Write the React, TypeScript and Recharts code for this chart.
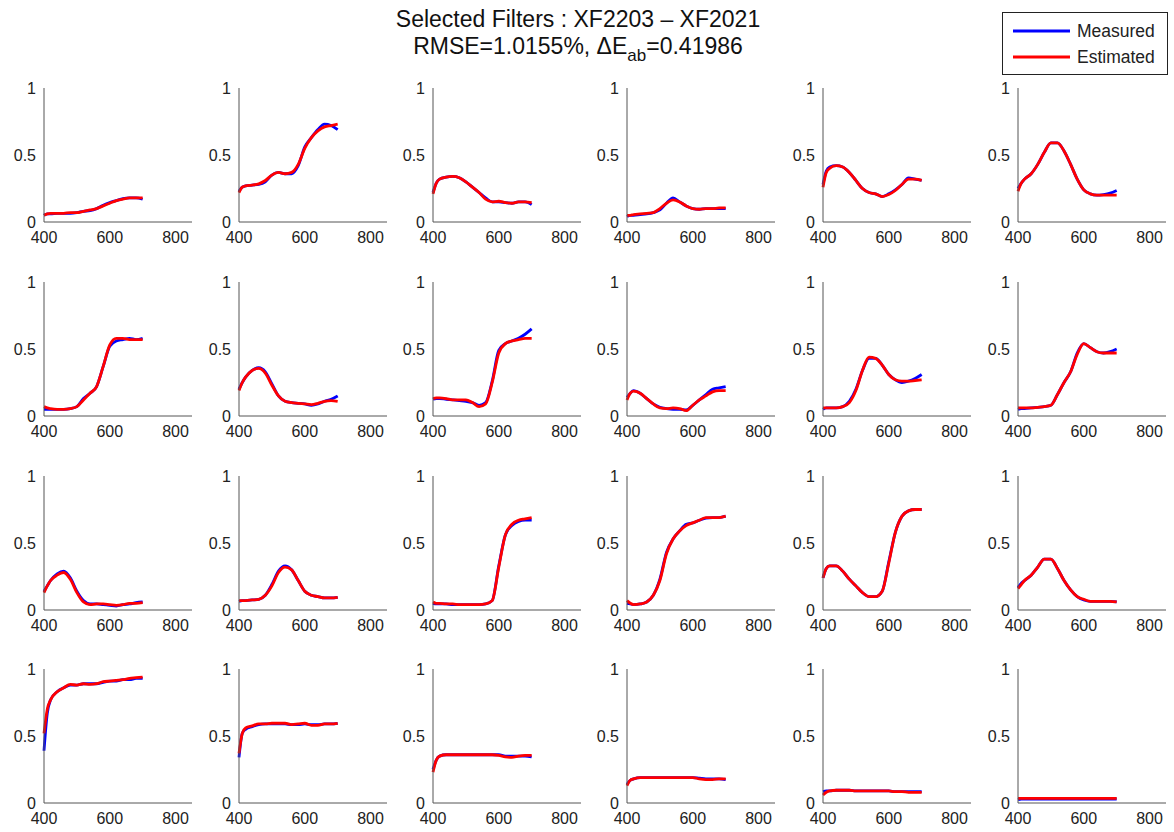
import { Line, LineChart, XAxis, YAxis } from "recharts";

const wavelengths = [400, 410, 420, 440, 460, 480, 500, 520, 540, 560, 580, 600, 620, 640, 660, 680, 700];
const xTicks = [400, 600, 800];
const yTicks = [0, 0.5, 1];

// one row per filter, 4 x 6 panels left to right, top to bottom
const measured = [
  [0.05, 0.06, 0.06, 0.065, 0.065, 0.065, 0.07, 0.08, 0.085, 0.1, 0.125, 0.145, 0.16, 0.175, 0.18, 0.18, 0.17],
  [0.23, 0.26, 0.27, 0.275, 0.28, 0.3, 0.35, 0.37, 0.36, 0.36, 0.42, 0.56, 0.63, 0.69, 0.73, 0.72, 0.69],
  [0.22, 0.29, 0.32, 0.335, 0.34, 0.33, 0.3, 0.26, 0.22, 0.18, 0.15, 0.15, 0.145, 0.14, 0.15, 0.15, 0.13],
  [0.04, 0.05, 0.05, 0.055, 0.06, 0.07, 0.09, 0.14, 0.18, 0.15, 0.12, 0.1, 0.095, 0.1, 0.1, 0.1, 0.1],
  [0.28, 0.38, 0.41, 0.42, 0.41, 0.37, 0.31, 0.25, 0.22, 0.21, 0.19, 0.21, 0.24, 0.28, 0.33, 0.32, 0.31],
  [0.25, 0.29, 0.32, 0.36, 0.43, 0.52, 0.59, 0.59, 0.53, 0.43, 0.32, 0.24, 0.21, 0.2, 0.205, 0.215, 0.235],

  [0.05, 0.05, 0.05, 0.05, 0.05, 0.055, 0.07, 0.13, 0.17, 0.22, 0.37, 0.52, 0.56, 0.57, 0.58, 0.57, 0.58],
  [0.2, 0.25, 0.29, 0.34, 0.36, 0.33, 0.24, 0.15, 0.11, 0.1, 0.095, 0.09, 0.08, 0.09, 0.11, 0.125, 0.15],
  [0.125, 0.13, 0.13, 0.125, 0.12, 0.115, 0.11, 0.1, 0.08, 0.1, 0.26, 0.49, 0.54, 0.56, 0.58, 0.61, 0.65],
  [0.14, 0.17, 0.19, 0.17, 0.13, 0.09, 0.065, 0.055, 0.05, 0.05, 0.045, 0.08, 0.12, 0.16, 0.2, 0.21, 0.22],
  [0.05, 0.06, 0.06, 0.06, 0.07, 0.11, 0.2, 0.34, 0.43, 0.43, 0.38, 0.31, 0.27, 0.25, 0.26, 0.28, 0.31],
  [0.05, 0.055, 0.055, 0.06, 0.065, 0.07, 0.08, 0.16, 0.25, 0.33, 0.47, 0.54, 0.51, 0.48, 0.47, 0.48, 0.5],

  [0.14, 0.18, 0.22, 0.27, 0.29, 0.24, 0.14, 0.07, 0.045, 0.045, 0.04, 0.035, 0.03, 0.04, 0.045, 0.055, 0.06],
  [0.065, 0.07, 0.07, 0.075, 0.08, 0.11, 0.19, 0.29, 0.33, 0.3, 0.22, 0.14, 0.11, 0.1, 0.09, 0.09, 0.095],
  [0.05, 0.045, 0.045, 0.045, 0.04, 0.04, 0.04, 0.04, 0.04, 0.045, 0.07, 0.33, 0.56, 0.63, 0.66, 0.67, 0.67],
  [0.05, 0.045, 0.04, 0.045, 0.06, 0.11, 0.23, 0.43, 0.53, 0.59, 0.64, 0.65, 0.67, 0.685, 0.69, 0.69, 0.7],
  [0.24, 0.31, 0.33, 0.33, 0.29, 0.23, 0.18, 0.13, 0.1, 0.1, 0.14, 0.36, 0.58, 0.7, 0.74, 0.75, 0.75],
  [0.17, 0.2, 0.22, 0.26, 0.32, 0.38, 0.38, 0.31, 0.22, 0.15, 0.1, 0.075, 0.065, 0.065, 0.065, 0.065, 0.06],

  [0.39, 0.67, 0.77, 0.83, 0.86, 0.88, 0.88, 0.89, 0.89, 0.89, 0.9, 0.91, 0.91, 0.92, 0.92, 0.93, 0.93],
  [0.34, 0.52, 0.55, 0.57, 0.585, 0.59, 0.59, 0.59, 0.59, 0.585, 0.585, 0.59, 0.585, 0.585, 0.59, 0.59, 0.595],
  [0.25, 0.32, 0.35, 0.36, 0.36, 0.36, 0.36, 0.36, 0.36, 0.36, 0.36, 0.36, 0.35, 0.35, 0.35, 0.35, 0.345],
  [0.14, 0.17, 0.18, 0.19, 0.19, 0.19, 0.19, 0.19, 0.19, 0.19, 0.19, 0.19, 0.185, 0.18, 0.18, 0.18, 0.175],
  [0.085, 0.09, 0.09, 0.095, 0.095, 0.095, 0.09, 0.09, 0.09, 0.09, 0.09, 0.09, 0.085, 0.085, 0.085, 0.085, 0.085],
  [0.025, 0.03, 0.03, 0.03, 0.03, 0.03, 0.03, 0.03, 0.03, 0.03, 0.03, 0.03, 0.03, 0.03, 0.03, 0.03, 0.03],
];

const estimated = [
  [0.05, 0.06, 0.065, 0.065, 0.065, 0.07, 0.07, 0.08, 0.09, 0.1, 0.12, 0.14, 0.16, 0.17, 0.18, 0.18, 0.18],
  [0.22, 0.26, 0.27, 0.275, 0.285, 0.31, 0.35, 0.37, 0.36, 0.37, 0.43, 0.55, 0.63, 0.68, 0.71, 0.72, 0.73],
  [0.21, 0.29, 0.32, 0.335, 0.34, 0.33, 0.3, 0.26, 0.22, 0.17, 0.15, 0.155, 0.145, 0.14, 0.15, 0.15, 0.145],
  [0.05, 0.05, 0.055, 0.06, 0.065, 0.07, 0.1, 0.14, 0.165, 0.15, 0.12, 0.1, 0.095, 0.1, 0.1, 0.105, 0.105],
  [0.26, 0.37, 0.4, 0.42, 0.41, 0.37, 0.31, 0.25, 0.22, 0.21, 0.19, 0.205, 0.235, 0.28, 0.32, 0.32, 0.31],
  [0.23, 0.29, 0.32, 0.36, 0.43, 0.52, 0.59, 0.59, 0.53, 0.43, 0.32, 0.24, 0.21, 0.2, 0.2, 0.2, 0.2],

  [0.07, 0.06, 0.055, 0.05, 0.05, 0.055, 0.07, 0.12, 0.17, 0.22, 0.37, 0.53, 0.58, 0.58, 0.57, 0.57, 0.57],
  [0.19, 0.25, 0.29, 0.34, 0.355, 0.32, 0.23, 0.15, 0.11, 0.1, 0.095, 0.09, 0.085, 0.095, 0.11, 0.115, 0.11],
  [0.13, 0.135, 0.135, 0.13, 0.12, 0.12, 0.12, 0.1, 0.07, 0.09, 0.25, 0.47, 0.54, 0.56, 0.57, 0.58, 0.58],
  [0.12, 0.17, 0.185, 0.17, 0.13, 0.09, 0.06, 0.055, 0.06, 0.055, 0.04, 0.08, 0.12, 0.15, 0.18, 0.19, 0.19],
  [0.06, 0.06, 0.06, 0.06, 0.07, 0.1, 0.19, 0.34, 0.44, 0.43, 0.38, 0.31, 0.27, 0.26, 0.26, 0.265, 0.27],
  [0.06, 0.06, 0.06, 0.06, 0.065, 0.07, 0.08, 0.16, 0.25, 0.33, 0.46, 0.54, 0.51, 0.48, 0.47, 0.47, 0.47],

  [0.13, 0.18, 0.22, 0.26, 0.28, 0.23, 0.13, 0.06, 0.04, 0.045, 0.045, 0.04, 0.035, 0.04, 0.05, 0.05, 0.055],
  [0.07, 0.07, 0.07, 0.075, 0.08, 0.11, 0.18, 0.28, 0.32, 0.3, 0.22, 0.14, 0.11, 0.1, 0.09, 0.09, 0.095],
  [0.06, 0.05, 0.05, 0.045, 0.045, 0.04, 0.04, 0.04, 0.04, 0.045, 0.07, 0.32, 0.56, 0.64, 0.67, 0.68, 0.69],
  [0.07, 0.05, 0.04, 0.045, 0.06, 0.11, 0.22, 0.42, 0.53, 0.59, 0.63, 0.65, 0.67, 0.69, 0.69, 0.69, 0.7],
  [0.24, 0.31, 0.33, 0.33, 0.29, 0.23, 0.18, 0.13, 0.1, 0.1, 0.14, 0.35, 0.58, 0.7, 0.74, 0.75, 0.75],
  [0.16, 0.19, 0.22, 0.26, 0.32, 0.38, 0.38, 0.31, 0.22, 0.15, 0.1, 0.08, 0.065, 0.065, 0.065, 0.065, 0.06],

  [0.52, 0.7, 0.77, 0.83, 0.86, 0.885, 0.88, 0.89, 0.885, 0.89, 0.905, 0.91, 0.915, 0.92, 0.93, 0.935, 0.94],
  [0.37, 0.52, 0.56, 0.575, 0.59, 0.59, 0.595, 0.595, 0.595, 0.585, 0.59, 0.595, 0.58, 0.58, 0.59, 0.59, 0.595],
  [0.23, 0.32, 0.35, 0.36, 0.36, 0.36, 0.36, 0.36, 0.36, 0.36, 0.36, 0.355, 0.345, 0.34, 0.35, 0.355, 0.355],
  [0.13, 0.17, 0.18, 0.19, 0.19, 0.19, 0.19, 0.19, 0.19, 0.19, 0.19, 0.19, 0.18, 0.175, 0.175, 0.18, 0.18],
  [0.06, 0.08, 0.09, 0.095, 0.095, 0.095, 0.09, 0.09, 0.09, 0.09, 0.09, 0.09, 0.085, 0.085, 0.08, 0.08, 0.08],
  [0.035, 0.035, 0.035, 0.035, 0.035, 0.035, 0.035, 0.035, 0.035, 0.035, 0.035, 0.035, 0.035, 0.035, 0.035, 0.035, 0.035],
];

const plotLefts = [44, 239, 433, 627, 823, 1018];
const plotTops = [88, 282, 476, 669];
const font = "'Liberation Sans', Arial, sans-serif";
const axisColor = "#555";
const tickStyle = { fontSize: 16, fill: "#222", fontFamily: font };

function Panel({ idx }: { idx: number }) {
  const row = Math.floor(idx / 6);
  const col = idx % 6;
  const data = wavelengths.map((w, i) => ({
    w,
    m: measured[idx][i],
    e: estimated[idx][i],
  }));
  return (
    <div style={{ position: "absolute", left: plotLefts[col] - 44, top: plotTops[row] - 12 }}>
      <LineChart
        width={195}
        height={176}
        data={data}
        margin={{ top: 12, right: 3, bottom: 0, left: 4 }}
      >
        <XAxis
          dataKey="w"
          type="number"
          domain={[400, 850]}
          ticks={xTicks}
          height={30}
          tickLine={false}
          tickSize={8}
          stroke={axisColor}
          tick={tickStyle}
        />
        <YAxis
          type="number"
          domain={[0, 1]}
          ticks={yTicks}
          width={40}
          tickLine={false}
          tickSize={6}
          stroke={axisColor}
          tick={tickStyle}
        />
        <Line
          type="monotone"
          dataKey="m"
          stroke="#0000ff"
          strokeWidth={2.8}
          dot={false}
          isAnimationActive={false}
        />
        <Line
          type="monotone"
          dataKey="e"
          stroke="#ff0000"
          strokeWidth={2.8}
          dot={false}
          isAnimationActive={false}
        />
      </LineChart>
    </div>
  );
}

export default function App() {
  return (
    <div
      style={{
        position: "absolute",
        left: 0,
        top: 0,
        width: 1174,
        height: 832,
        background: "#fff",
        fontFamily: font,
      }}
    >
      <svg width={1174} height={80} style={{ position: "absolute", left: 0, top: 0 }}>
        <text x={578} y={27} textAnchor="middle" fontSize={23} fill="#111" fontFamily={font}>
          Selected Filters : XF2203 – XF2021
        </text>
        <text x={578} y={54} textAnchor="middle" fontSize={23} fill="#111" fontFamily={font}>
          RMSE=1.0155%, ΔE
          <tspan fontSize={17} dy={7}>ab</tspan>
          <tspan dy={-7}>=0.41986</tspan>
        </text>
        <rect x={1002.5} y={12.5} width={165} height={62} fill="#fff" stroke="#222" strokeWidth={1} />
        <line x1={1013} x2={1070} y1={31} y2={31} stroke="#0000ff" strokeWidth={2.8} />
        <line x1={1013} x2={1070} y1={57} y2={57} stroke="#ff0000" strokeWidth={2.8} />
        <text x={1077} y={37} fontSize={17.5} fill="#222" fontFamily={font}>Measured</text>
        <text x={1077} y={63} fontSize={17.5} fill="#222" fontFamily={font}>Estimated</text>
      </svg>
      {measured.map((_, i) => (
        <Panel key={i} idx={i} />
      ))}
    </div>
  );
}
